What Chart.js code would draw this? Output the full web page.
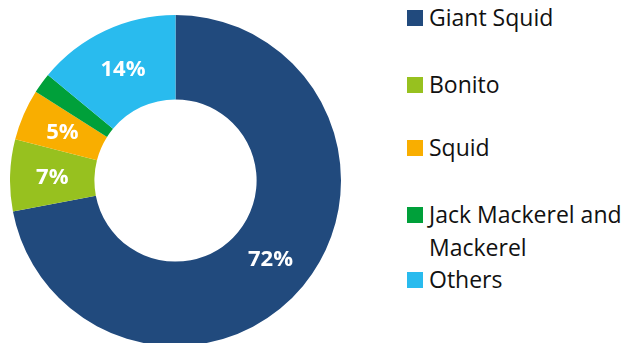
<!DOCTYPE html>
<html><head><meta charset="utf-8">
<script src="https://cdn.jsdelivr.net/npm/chart.js@4/dist/chart.umd.min.js"></script>
<style>
html,body{margin:0;padding:0;width:630px;height:343px;overflow:hidden;background:#fff;}
#wrap{position:absolute;left:10px;top:15px;width:331px;height:331px;}
#legend{position:absolute;left:407px;top:0;width:223px;height:343px;font-family:'Open Sans',sans-serif;font-size:23px;color:#111;}
.item{position:absolute;left:0;white-space:nowrap;line-height:33px;}
.sw{position:absolute;left:0;top:9px;width:16px;height:16px;}
.tx{position:absolute;left:22px;top:0;}
</style></head>
<body>
<div id="wrap"><canvas id="c" width="331" height="331"></canvas></div>
<div id="legend"></div>
<script>
const categories = ["Giant Squid", "Bonito", "Squid", "Jack Mackerel and Mackerel", "Others"];
const legendLines = [["Giant Squid"], ["Bonito"], ["Squid"], ["Jack Mackerel and", "Mackerel"], ["Others"]];
const shares = [72, 7, 5, 2, 14];
const colors = ["#214A7D", "#97C11F", "#F9AE00", "#00A03A", "#29BBEE"];
const legendTops = [1, 68, 131, 198, 263];

const labelPlugin = {
  id: 'sliceLabels',
  afterDatasetsDraw(chart) {
    const ctx = chart.ctx;
    const meta = chart.getDatasetMeta(0);
    ctx.save();
    ctx.fillStyle = '#fff';
    ctx.font = 'bold 22px "Open Sans"';
    ctx.textAlign = 'center';
    ctx.textBaseline = 'middle';
    meta.data.forEach((arc, i) => {
      const v = shares[i];
      if (v < 5) return;
      const p = arc.tooltipPosition();
      ctx.fillText(v + '%', p.x, p.y + 1);
    });
    ctx.restore();
  }
};

new Chart(document.getElementById('c'), {
  type: 'doughnut',
  data: {
    labels: categories,
    datasets: [{ data: shares, backgroundColor: colors, borderWidth: 0 }]
  },
  options: {
    responsive: false,
    animation: false,
    cutout: '49%',
    layout: { padding: 0 },
    plugins: { legend: { display: false }, tooltip: { enabled: false } }
  },
  plugins: [labelPlugin]
});

const lg = document.getElementById('legend');
legendLines.forEach((lines, i) => {
  const it = document.createElement('div');
  it.className = 'item';
  it.style.top = legendTops[i] + 'px';
  const sw = document.createElement('div');
  sw.className = 'sw';
  sw.style.background = colors[i];
  const tx = document.createElement('div');
  tx.className = 'tx';
  tx.innerHTML = lines.join('<br>');
  it.appendChild(sw); it.appendChild(tx);
  lg.appendChild(it);
});
</script>
</body></html>
